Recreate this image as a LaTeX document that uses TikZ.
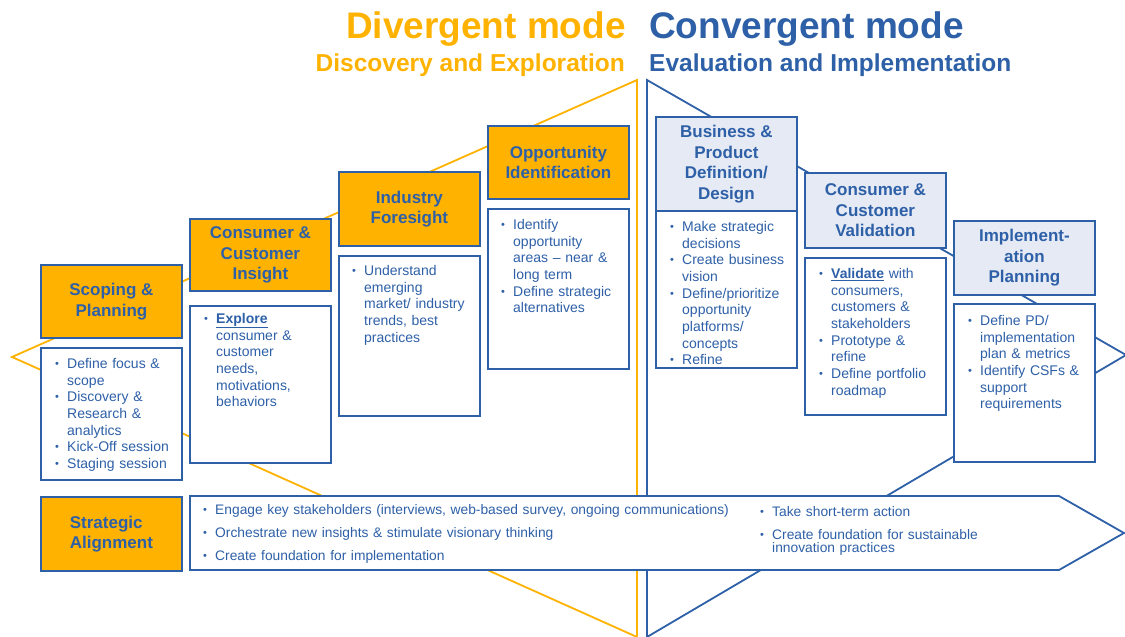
\documentclass[tikz,border=0pt]{standalone}
\usepackage{fontspec}
\setmainfont{Liberation Sans}
\usetikzlibrary{positioning}

\definecolor{divorange}{RGB}{255,178,0}
\definecolor{convblue}{RGB}{46,96,168}
\definecolor{headlight}{RGB}{229,234,244}

% one bullet line with hanging indent
\newcommand{\bitem}[1]{\noindent\hangindent=12pt\hangafter=1\makebox[12pt][l]{\raisebox{1pt}{\fontsize{11}{11}\selectfont\textbullet}}#1\par}

\tikzset{
  stage/.style={draw=convblue, line width=1.8pt, fill=divorange, text=convblue,
    font=\bfseries\fontsize{17}{20.5}\selectfont, align=center,
    minimum width=141pt, inner sep=0pt, anchor=north west},
  cstage/.style={stage, fill=headlight},
  taskbox/.style={draw=convblue, line width=1.8pt, fill=white,
    minimum width=141pt, inner sep=0pt, anchor=north west},
  tasks/.style={text=convblue, font=\fontsize{14}{16.7}\selectfont,
    text width=#1, align=left, inner sep=0pt, anchor=north west},
  tasks/.default=124pt,
  modetitle/.style={inner sep=0pt, font=\bfseries\fontsize{37}{37}\selectfont},
  modesub/.style={inner sep=0pt, font=\bfseries\fontsize{24.5}{24.5}\selectfont}
}

\begin{document}
\begin{tikzpicture}[x=1pt, y=-1pt]
  \useasboundingbox (0,0) rectangle (1125,637);

  % mode titles
  \node[modetitle, text=divorange, anchor=base east] (divtitle) at (626,38) {Divergent mode};
  \node[modesub, text=divorange, anchor=base east] (divsub) at (625,71) {Discovery and Exploration};
  \node[modetitle, text=convblue, anchor=base west] (convtitle) at (649,38) {Convergent mode};
  \node[modesub, text=convblue, anchor=base west] (convsub) at (649,71) {Evaluation and Implementation};

  % the two wedges
  \draw[divorange, line width=1.8pt] (637,637) -- (637,80) -- (12,357) -- cycle;
  \draw[convblue, line width=1.8pt] (647,637) -- (647,80) -- (1126,355) -- cycle;

  % strategic alignment strip
  \draw[convblue, line width=1.8pt, fill=white]
    (190,496) -- (1059,496) -- (1124,533) -- (1059,570) -- (190,570) -- cycle;
  \node[stage, minimum height=74pt, align=left] (sa-head) at (40,496) {Strategic\\Alignment};

  % divergent stages
  \node[stage, minimum height=73pt] (sp-head) at (40,264) {Scoping \&\\Planning};
  \node[taskbox, minimum height=132pt] (sp-body) at (40,347) {};
  \node[stage, minimum height=72pt] (ci-head) at (189,218) {Consumer \&\\Customer\\Insight};
  \node[taskbox, minimum height=157pt] (ci-body) at (189,305) {};
  \node[stage, minimum height=74pt] (if-head) at (338,171) {Industry\\Foresight};
  \node[taskbox, minimum height=160pt] (if-body) at (338,255) {};
  \node[stage, minimum height=73pt] (oi-head) at (487,125) {Opportunity\\Identification};
  \node[taskbox, minimum height=160pt] (oi-body) at (487,208) {};

  % convergent stages
  \node[cstage, minimum height=94pt] (bp-head) at (655,116) {Business \&\\Product\\Definition/\\Design};
  \node[taskbox, minimum height=157pt] (bp-body) at (655,210) {};
  \node[cstage, minimum height=75pt] (cv-head) at (804,172) {Consumer \&\\Customer\\Validation};
  \node[taskbox, minimum height=157pt] (cv-body) at (804,257) {};
  \node[cstage, minimum height=74pt] (ip-head) at (953,220) {Implement-\\ation\\Planning};
  \node[taskbox, minimum height=158pt] (ip-body) at (953,303) {};

  % task lists
  \node[tasks] (sp-text) at ([shift={(15,11)}]sp-body.north west) {%
    \bitem{Define focus \&\newline scope}%
    \bitem{Discovery \&\newline Research \&\newline analytics}%
    \bitem{Kick-Off session}%
    \bitem{Staging session}};
  \node[tasks] (ci-text) at ([shift={(15,8)}]ci-body.north west) {%
    \bitem{\underline{\textbf{Explore}}\newline consumer \&\newline customer\newline needs,\newline motivations,\newline behaviors}};
  \node[tasks] (if-text) at ([shift={(14,10)}]if-body.north west) {%
    \bitem{Understand\newline emerging\newline market/ industry\newline trends, best\newline practices}};
  \node[tasks] (oi-text) at ([shift={(14,11)}]oi-body.north west) {%
    \bitem{Identify\newline opportunity\newline areas – near \&\newline long term}%
    \bitem{Define strategic\newline alternatives}};
  \node[tasks] (bp-text) at ([shift={(15,11)}]bp-body.north west) {%
    \bitem{Make strategic\newline decisions}%
    \bitem{Create business\newline vision}%
    \bitem{Define/prioritize\newline opportunity\newline platforms/\newline concepts}%
    \bitem{Refine}};
  \node[tasks] (cv-text) at ([shift={(15,11)}]cv-body.north west) {%
    \bitem{\underline{\textbf{Validate}} with\newline consumers,\newline customers \&\newline stakeholders}%
    \bitem{Prototype \&\newline refine}%
    \bitem{Define portfolio\newline roadmap}};
  \node[tasks] (ip-text) at ([shift={(15,12)}]ip-body.north west) {%
    \bitem{Define PD/\newline implementation\newline plan \& metrics}%
    \bitem{Identify CSFs \&\newline support\newline requirements}};

  % strip task lists
  \node[tasks=550pt, font=\fontsize{13.8}{16.7}\selectfont] (sa-left) at (203,504) {\setlength{\parskip}{6.3pt}%
    \bitem{Engage key stakeholders (interviews, web-based survey, ongoing communications)}%
    \bitem{Orchestrate new insights \& stimulate visionary thinking}%
    \bitem{Create foundation for implementation}};
  \node[tasks=300pt, font=\fontsize{13.8}{13}\selectfont] (sa-right) at (760,506) {\setlength{\parskip}{10pt}%
    \bitem{Take short-term action}%
    \bitem{Create foundation for sustainable\newline innovation practices}};
\end{tikzpicture}
\end{document}
